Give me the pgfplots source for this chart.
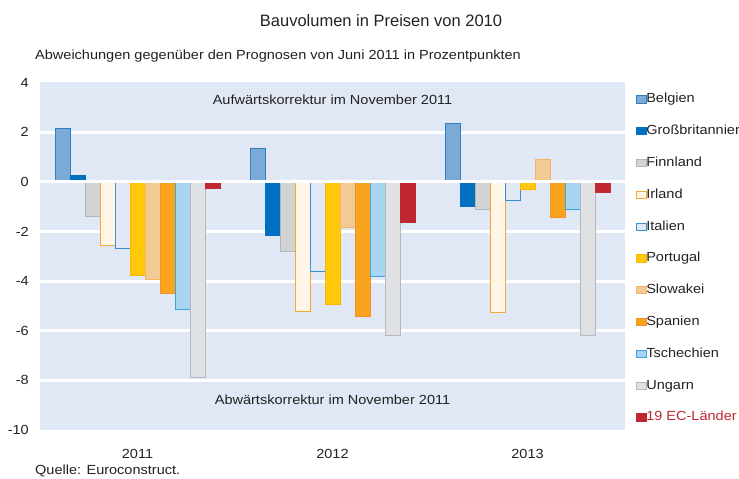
\documentclass[border=0pt]{standalone}
\usepackage{fontspec}
\setmainfont{Liberation Sans}[FakeStretch=1.1]
\newfontfamily\titlefont{Liberation Sans}
\usepackage{pgfplots}
\pgfplotsset{compat=1.18}
\definecolor{bg}{HTML}{E1E8F5}
\definecolor{txt}{HTML}{222222}
\definecolor{belF}{HTML}{7BAAD6}\definecolor{belD}{HTML}{2E7EC1}
\definecolor{gbF}{HTML}{0070C0}\definecolor{gbD}{HTML}{0070C0}
\definecolor{finF}{HTML}{D2D3D5}\definecolor{finD}{HTML}{B4B5B7}
\definecolor{irlF}{HTML}{FFF6E8}\definecolor{irlD}{HTML}{F7A834}
\definecolor{itaF}{HTML}{E1E8F5}\definecolor{itaD}{HTML}{3B8ED0}
\definecolor{porF}{HTML}{FFC80B}\definecolor{porD}{HTML}{FBB600}
\definecolor{sloF}{HTML}{F4CA94}\definecolor{sloD}{HTML}{F6B461}
\definecolor{spaF}{HTML}{F8A41F}\definecolor{spaD}{HTML}{F39224}
\definecolor{tscF}{HTML}{A7D5F2}\definecolor{tscD}{HTML}{3CA3DC}
\definecolor{ungF}{HTML}{DFE1E5}\definecolor{ungD}{HTML}{B7B8BA}
\definecolor{ecF}{HTML}{BF2731}\definecolor{ecD}{HTML}{BF2731}
\begin{document}
\fontsize{13.2}{15}\selectfont
\begin{tikzpicture}[every node/.style={text=txt}]
\path[use as bounding box] (0,0) rectangle (739pt,479pt);
\node[anchor=base, font=\titlefont\fontsize{16.5}{18}\selectfont] at (381pt,452pt) {Bauvolumen in Preisen von 2010};
\node[anchor=base west, inner sep=0pt] at (35pt,419pt) {Abweichungen gegenüber den Prognosen von Juni 2011 in Prozentpunkten};
\node[anchor=base west, inner sep=0pt] at (35pt,4.5pt) {Quelle: Euroconstruct.};
\begin{axis}[
  at={(40pt,49pt)}, anchor=south west,
  scale only axis, width=585pt, height=347.5pt,
  xmin=-0.5, xmax=2.5, ymin=-10, ymax=4,
  ybar=0pt, bar width=15pt,
  axis line style={draw=none},
  axis background/.style={fill=bg},
  ytick={-10,-8,-6,-4,-2,0,2,4},
  yticklabels={-10,-8,-6,-4,-2,0,2,4},
  extra y ticks={-8,-6,-4,-2,2},
  extra y tick labels={},
  extra y tick style={grid=major},
  major grid style={white, line width=3pt},
  xtick={0,1,2}, xticklabels={2011,2012,2013},
  tick style={draw=none},
  yticklabel style={inner sep=0pt, anchor=east, xshift=-11pt},
  xticklabel style={inner sep=0pt, anchor=north, yshift=-15pt},
  legend style={at={(axis description cs:1,1)}, anchor=north west, xshift=11pt, yshift=-10.7pt,
    draw=none, fill=none, inner sep=0pt, row sep=19.8pt,
    nodes={inner sep=0pt, text height=9.5pt, text depth=2.5pt, anchor=base west},
    /tikz/every even column/.append style={column sep=2pt}},
  legend cell align=left,
  legend image code/.code={\draw[#1, line width=0.6pt] (0pt,0pt) rectangle (9.5pt,7.3pt);},
  every axis plot/.append style={line width=0.8pt},
]
\addplot[fill=belF, draw=belD] coordinates {(0,2.15) (1,1.33) (2,2.34)};
\addlegendentry{Belgien}
\addplot[fill=gbF, draw=gbD] coordinates {(0,0.27) (1,-2.16) (2,-1.01)};
\addlegendentry{Großbritannien}
\addplot[fill=finF, draw=finD] coordinates {(0,-1.41) (1,-2.82) (2,-1.10)};
\addlegendentry{Finnland}
\addplot[fill=irlF, draw=irlD] coordinates {(0,-2.55) (1,-5.21) (2,-5.27)};
\addlegendentry{Irland}
\addplot[fill=itaF, draw=itaD] coordinates {(0,-2.67) (1,-3.61) (2,-0.74)};
\addlegendentry{Italien}
\addplot[fill=porF, draw=porD] coordinates {(0,-3.77) (1,-4.94) (2,-0.31)};
\addlegendentry{Portugal}
\addplot[fill=sloF, draw=sloD] coordinates {(0,-3.95) (1,-1.84) (2,0.90)};
\addlegendentry{Slowakei}
\addplot[fill=spaF, draw=spaD] coordinates {(0,-4.50) (1,-5.42) (2,-1.45)};
\addlegendentry{Spanien}
\addplot[fill=tscF, draw=tscD] coordinates {(0,-5.15) (1,-3.83) (2,-1.10)};
\addlegendentry{Tschechien}
\addplot[fill=ungF, draw=ungD] coordinates {(0,-7.89) (1,-6.19) (2,-6.19)};
\addlegendentry{Ungarn}
\addplot[fill=ecF, draw=ecD] coordinates {(0,-0.27) (1,-1.62) (2,-0.44)};
\addlegendentry{\textcolor{ecF}{19 EC-Länder}}
\draw[white, line width=3pt] (axis cs:-0.5,0) -- (axis cs:2.5,0);
\node at (axis cs:1,3.3) {Aufwärtskorrektur im November 2011};
\node at (axis cs:1,-8.8) {Abwärtskorrektur im November 2011};
\end{axis}
\end{tikzpicture}
\end{document}
